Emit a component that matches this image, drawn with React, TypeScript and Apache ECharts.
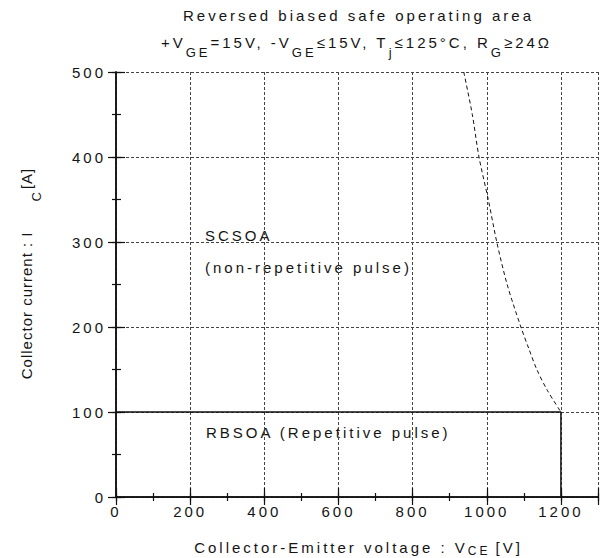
import React, { useEffect, useRef } from 'react';
import * as echarts from 'echarts';

// ---- data ----
const xMin = 0;
const xMax = 1300;
const yMin = 0;
const yMax = 500;
const xMajor = 200;
const xMinor = 100;
const yMajor = 100;
const yMinor = 50;

// RBSOA boundary (solid)
const rbsoaV = [0, 1200, 1200];
const rbsoaI = [100, 100, 0];

// SCSOA boundary (dashed)
const scsoaV = [938, 961, 979, 1004, 1027, 1055, 1092, 1113, 1135, 1164, 1200];
const scsoaI = [500, 450, 400, 350, 300, 250, 200, 175, 150, 125, 100];

const titleLine1 = 'Reversed biased safe operating area';
const titleLine2 = [
  { t: '+V' }, { t: 'GE', sub: true }, { t: '=15V, -V' }, { t: 'GE', sub: true },
  { t: '≤15V, T' }, { t: 'j', sub: true }, { t: '≤125°C, R' }, { t: 'G', sub: true }, { t: '≥24Ω' },
];
const xNameParts = [{ t: 'Collector-Emitter voltage : V' }, { t: 'CE', sub: true }, { t: '[V]', gap: 5 }];
const yNameParts = [{ t: 'Collector current : I' }, { t: 'C', sub: true, gap: 30 }, { t: '[A]', gap: 2 }];
const annSCSOA = 'SCSOA';
const annSCSOA2 = '(non-repetitive pulse)';
const annRBSOA = 'RBSOA (Repetitive pulse)';

const FA = "'Liberation Sans', sans-serif";
const FB = "'Liberation Sans', Arial, sans-serif";
const TXT = '#141414';

type Frag = { t: string; sub?: boolean; gap?: number };

function makeRow(
  frags: Frag[],
  o: { cx: number; cy: number; size: number; subSize: number; subDy: number; ls: number; family: string; rotation?: number }
) {
  const canvas = document.createElement('canvas');
  const ctx = canvas.getContext('2d')!;
  const widths = frags.map((f) => {
    const sz = f.sub ? o.subSize : o.size;
    ctx.font = `${sz}px 'Liberation Sans'`;
    return ctx.measureText(f.t).width + f.t.length * o.ls;
  });
  let total = -o.ls;
  frags.forEach((f, i) => (total += (f.gap || 0) + widths[i]));
  let x = -total / 2;
  const children: any[] = [];
  frags.forEach((f, i) => {
    x += f.gap || 0;
    children.push({
      type: 'text',
      x,
      y: f.sub ? o.subDy : 0,
      silent: true,
      style: {
        text: f.t,
        fontSize: f.sub ? o.subSize : o.size,
        fontFamily: o.family,
        fill: TXT,
        align: 'left',
        textAlign: 'left',
        verticalAlign: 'middle',
        textVerticalAlign: 'middle',
      },
    });
    x += widths[i];
  });
  return { type: 'group', x: o.cx, y: o.cy, rotation: o.rotation || 0, children };
}

function annText(text: string, x: number, y: number) {
  return {
    type: 'text',
    x,
    y,
    silent: true,
    style: {
      text,
      fontSize: 15,
      fontFamily: FA,
      fill: TXT,
      align: 'left',
      textAlign: 'left',
      verticalAlign: 'middle',
      textVerticalAlign: 'middle',
    },
  };
}

export default function App() {
  const ref = useRef<HTMLDivElement>(null);
  useEffect(() => {
    if (!ref.current) return;
    const chart = echarts.init(ref.current, undefined, { renderer: 'svg' });
    const axisLine = { show: true, lineStyle: { color: '#111', width: 1.5 } };
    const noLine = { show: false };
    const tick = (len: number) => ({ show: true, inside: true, length: len, lineStyle: { color: '#111', width: 1.2 } });
    const split = { show: true, lineStyle: { color: '#444', width: 1, type: [3, 2] as any } };
    const labelStyle = { fontSize: 15, fontFamily: FA, color: TXT };
    const xBase = { type: 'value', min: xMin, max: xMax, silent: true };
    const yBase = { type: 'value', min: yMin, max: yMax, silent: true };

    const option: any = {
      animation: false,
      grid: { left: 116, right: 6, top: 72, bottom: 61 },
      xAxis: [
        {
          ...xBase, position: 'bottom', interval: xMajor, axisLine, axisTick: tick(9),
          axisLabel: { ...labelStyle, margin: 7, formatter: (v: number) => (v % xMajor === 0 ? String(v) : '') },
          splitLine: split,
        },
        { ...xBase, position: 'bottom', interval: xMinor, axisLine: noLine, axisTick: tick(4), axisLabel: { show: false }, splitLine: { show: false } },
        { ...xBase, position: 'top', interval: xMajor, axisLine, axisTick: tick(8), axisLabel: { show: false }, splitLine: { show: false } },
        { ...xBase, position: 'top', interval: xMinor, axisLine: noLine, axisTick: tick(4), axisLabel: { show: false }, splitLine: { show: false } },
      ],
      yAxis: [
        {
          ...yBase, position: 'left', interval: yMajor, axisLine, axisTick: tick(9),
          axisLabel: { ...labelStyle, margin: 10 },
          splitLine: split,
        },
        { ...yBase, position: 'left', interval: yMinor, axisLine: noLine, axisTick: tick(5), axisLabel: { show: false }, splitLine: { show: false } },
        { ...yBase, position: 'right', interval: yMajor, axisLine, axisTick: tick(8), axisLabel: { show: false }, splitLine: { show: false } },
        { ...yBase, position: 'right', interval: yMinor, axisLine: noLine, axisTick: tick(4), axisLabel: { show: false }, splitLine: { show: false } },
      ],
      series: [
        {
          name: 'RBSOA',
          type: 'line',
          xAxisIndex: 0,
          yAxisIndex: 0,
          data: rbsoaV.map((v, i) => [v, rbsoaI[i]]),
          symbol: 'none',
          silent: true,
          z: 4,
          lineStyle: { color: '#111', width: 1.5 },
        },
        {
          name: 'SCSOA',
          type: 'line',
          xAxisIndex: 0,
          yAxisIndex: 0,
          data: scsoaV.map((v, i) => [v, scsoaI[i]]),
          symbol: 'none',
          smooth: 0.3,
          silent: true,
          z: 4,
          lineStyle: { color: '#111', width: 1, type: [4, 3] },
        },
      ],
      graphic: [
        makeRow([{ t: titleLine1 }], { cx: 357, cy: 15.5, size: 15, subSize: 13, subDy: 0, ls: 3, family: FA }),
        makeRow(titleLine2, { cx: 355, cy: 42, size: 15, subSize: 13, subDy: 10, ls: 3, family: FA }),
        makeRow(xNameParts, { cx: 357, cy: 547.5, size: 15, subSize: 12, subDy: 3.5, ls: 3, family: FA }),
        makeRow(yNameParts, { cx: 26.5, cy: 274, size: 15, subSize: 13, subDy: 9.5, ls: 1, family: FB, rotation: Math.PI / 2 }),
        annText(annSCSOA, 205, 235),
        annText(annSCSOA2, 205, 267),
        annText(annRBSOA, 206, 432),
      ],
    };
    chart.setOption(option);
    return () => chart.dispose();
  }, []);
  return (
    <>
      <style>{`.rb-chart text{letter-spacing:3px} .rb-chart text[style*="Arial"]{letter-spacing:1px}`}</style>
      <div
        ref={ref}
        className="rb-chart"
        style={{ position: 'absolute', left: 0, top: 0, width: 604, height: 558, background: '#fff' }}
      />
    </>
  );
}
